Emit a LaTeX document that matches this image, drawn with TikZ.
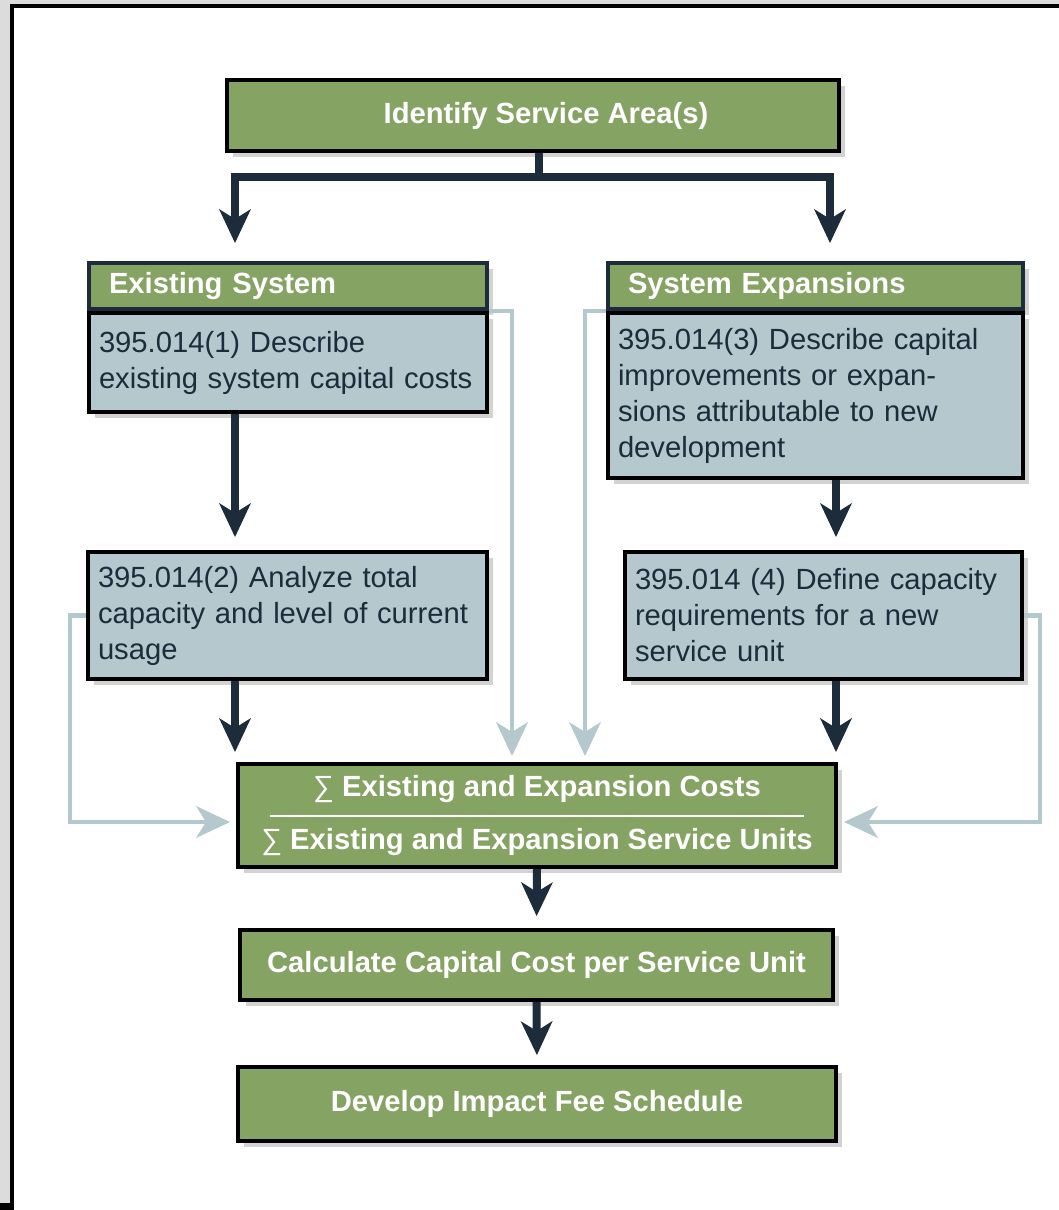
\documentclass[tikz,border=0pt]{standalone}
\usepackage{fontspec}
\setmainfont{Liberation Sans}
\usepackage{tikz}
\usetikzlibrary{calc}
\usetikzlibrary{shapes,arrows.meta,shadows}

\definecolor{fillgreen}{HTML}{85A362}
\definecolor{fillblue}{HTML}{B4C8CD}
\definecolor{navy}{HTML}{1C2C3B}
\definecolor{framegrey}{HTML}{DCDCDC}

\begin{document}
\begin{tikzpicture}[x=0.5pt,y=-0.5pt,
    boxshadow/.style={drop shadow={shadow xshift=3pt,shadow yshift=-3pt,opacity=.35}},
    greenbox/.style={draw=black,line width=2pt,fill=fillgreen,text=white,
      font=\fontsize{14.6}{26.5}\selectfont\bfseries,align=center,inner sep=0pt,boxshadow},
    headbox/.style={draw=navy,line width=2pt,fill=fillgreen,text=white,
      font=\fontsize{14.6}{18}\selectfont\bfseries,align=left,anchor=north west,
      inner xsep=10pt,inner ysep=0pt,minimum height=23pt,boxshadow},
    bluebox/.style={draw=black,line width=2pt,fill=fillblue,text=navy,
      font=\fontsize{14.6}{18}\selectfont,align=left,anchor=north west,
      inner xsep=5pt,inner ysep=0pt,boxshadow},
    flow/.style={draw=navy,line width=4pt,
      -{Stealth[length=17pt,width=16pt,inset=5pt,line width=0pt]},shorten >=5pt},
    feed/.style={draw=fillblue,line width=2.2pt,
      -{Stealth[length=17pt,width=16pt,inset=5pt,line width=0pt]},shorten >=3pt}]
    \useasboundingbox (0,0) rectangle (1059,1210);
    % frame
    \fill[framegrey] (0,0) rectangle (1059,1210);
    \fill[black] (10,4) rectangle (1059,8);
    \fill[black] (10,4) rectangle (14,1210);
    \fill[black] (0,1203) rectangle (14,1210);
    \fill[white] (14,8) rectangle (1059,1210);

    \coordinate (Split) at (539,177);
    \coordinate (ColA) at (235,0);
    \coordinate (ColB) at (830,0);
    \coordinate (ColD) at (836,0);
    \coordinate (ColL) at (512,0);
    \coordinate (ColR) at (585,0);
    \coordinate (LoopL) at (70,822);
    \coordinate (LoopR) at (1040,822);

    \node[greenbox,minimum width=306pt,minimum height=35.5pt] (Top) at (533,115.5) {\hspace*{13pt}Identify Service Area(s)};

    \node[headbox,text width=179pt] (ESHead) at (87,261) {Existing System};
    \node[bluebox,text width=189pt,minimum height=49.5pt] (ESBody) at (ESHead.south west)
      {395.014(1) Describe\\existing system capital costs};
    \node[headbox,text width=187.5pt] (SEHead) at (606,261) {System Expansions};
    \node[bluebox,text width=197.5pt,minimum height=82.5pt] (SEBody) at (SEHead.south west)
      {395.014(3) Describe capital\\improvements or expan-\\sions attributable to new\\development};

    \node[bluebox,text width=189.5pt,minimum height=63.5pt] (Usage) at (86,550)
      {395.014(2) Analyze total\\capacity and level of current\\usage};
    \node[bluebox,text width=188.5pt,minimum height=63.5pt] (Capacity) at (623,550)
      {395.014 (4) Define capacity\\requirements for a new\\service unit};

    \node[greenbox,minimum width=299pt,minimum height=51.5pt] (Ratio) at (537,815.5)
      {{\mdseries ∑} Existing and Expansion Costs\\{\mdseries ∑} Existing and Expansion Service Units};
    \draw[white,line width=1pt] ($(Ratio.center)+(-267,0)$) -- ($(Ratio.center)+(267,0)$);

    \node[greenbox,minimum width=296.5pt,minimum height=35pt] (Cost) at (536.5,965) {Calculate Capital Cost per Service Unit};
    \node[greenbox,minimum width=299pt,minimum height=37pt] (Fee) at (537,1104) {Develop Impact Fee Schedule};

    % main flow
    \draw[flow,shorten >=9pt] (Top.south -| Split) -- (Split) -| (ColA |- ESHead.north);
    \draw[flow,shorten >=9pt] (Split) -| (ColB |- SEHead.north);
    \draw[flow,shorten >=6.5pt] (ColA |- ESBody.south) -- (ColA |- Usage.north);
    \draw[flow,shorten >=6.5pt] (ColD |- SEBody.south) -- (ColD |- Capacity.north);
    \draw[flow] (ColA |- Usage.south) -- (ColA |- Ratio.north);
    \draw[flow] (ColD |- Capacity.south) -- (ColD |- Ratio.north);
    \draw[flow,shorten >=6pt] (Ratio.south) -- (Cost.north);
    \draw[flow] (Cost.south) -- (Fee.north);

    % feeds into the ratio
    \draw[feed] (ESHead.south east) -| (ColL |- Ratio.north);
    \draw[feed] (SEHead.south west) -| (ColR |- Ratio.north);
    \draw[feed] (Usage.west) -| (LoopL) -- (LoopL -| Ratio.west);
    \draw[feed] (Capacity.east) -| (LoopR) -- (LoopR -| Ratio.east);
  \end{tikzpicture}
\end{document}
